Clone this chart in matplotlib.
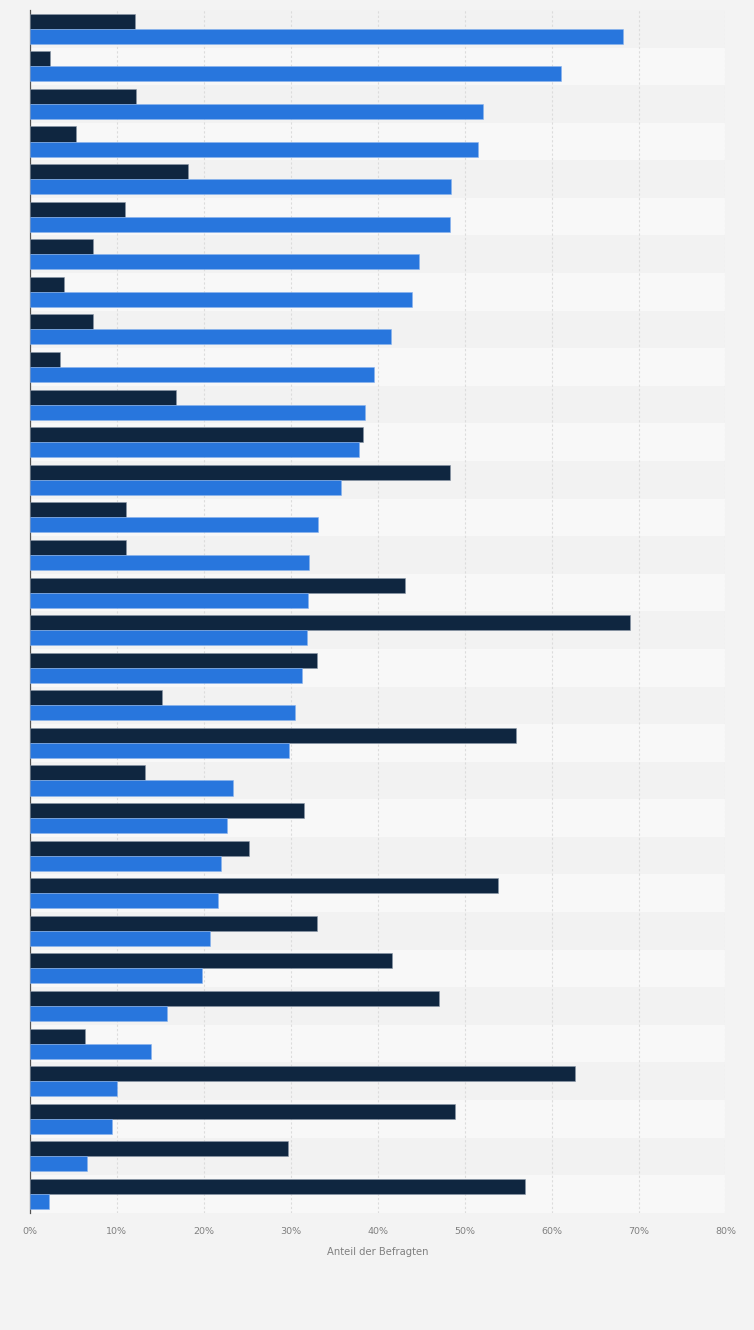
import matplotlib
matplotlib.use("Agg")
import matplotlib.pyplot as plt
import numpy as np

# values in percent, top row first
series_dark = [12.1, 2.3, 12.2, 5.3, 18.2, 10.9, 7.3, 3.9, 7.3, 3.5,
               16.8, 38.3, 48.3, 11.1, 11.1, 43.2, 69.0, 33.0, 15.2, 55.9,
               13.2, 31.5, 25.2, 53.8, 33.0, 41.7, 47.0, 6.4, 62.7, 48.9,
               29.7, 57.0]
series_blue = [68.2, 61.1, 52.1, 51.5, 48.4, 48.3, 44.8, 44.0, 41.5, 39.6,
               38.5, 37.9, 35.8, 33.1, 32.1, 32.0, 31.9, 31.3, 30.5, 29.8,
               23.4, 22.7, 22.0, 21.7, 20.7, 19.8, 15.8, 13.9, 10.0, 9.5,
               6.6, 2.2]
x_ticks = [0, 10, 20, 30, 40, 50, 60, 70, 80]
x_label = "Anteil der Befragten"

n = len(series_blue)
y = np.arange(n)

fig = plt.figure(figsize=(7.54, 13.30), dpi=100, facecolor="#f3f3f3")
ax = fig.add_axes([0.0395, 0.0882, 0.9227, 0.9043])
ax.set_facecolor("#f3f3f3")

# alternating row bands
for i in range(n):
    ax.axhspan(i - 0.5, i + 0.5, color="#f2f2f2" if i % 2 == 0 else "#f8f8f8",
               zorder=0, lw=0)

ax.barh(y - 0.2, series_dark, height=0.4, color="#0f2640",
        edgecolor="#8a97a8", linewidth=0.4, zorder=3)
ax.barh(y + 0.2, series_blue, height=0.4, color="#2876dd",
        edgecolor="#8ab4ee", linewidth=0.4, zorder=3)

ax.set_xlim(0, 80)
ax.set_ylim(n - 0.5, -0.5)
ax.set_xticks(x_ticks)
ax.set_xticklabels([f"{t}%" for t in x_ticks])
ax.set_yticks([])
ax.xaxis.grid(True, color="#dcdcdc", linestyle=(0, (2, 2)), linewidth=0.8, zorder=1)
ax.set_axisbelow(True)

for s in ["top", "right", "bottom"]:
    ax.spines[s].set_visible(False)
ax.spines["left"].set_color("#555555")
ax.spines["left"].set_linewidth(0.9)

ax.tick_params(axis="x", length=0, pad=10, labelsize=6.8, labelcolor="#808080")
ax.set_xlabel(x_label, fontsize=7.2, color="#808080", labelpad=8)

fig.savefig("out.png", dpi=100, facecolor=fig.get_facecolor())
